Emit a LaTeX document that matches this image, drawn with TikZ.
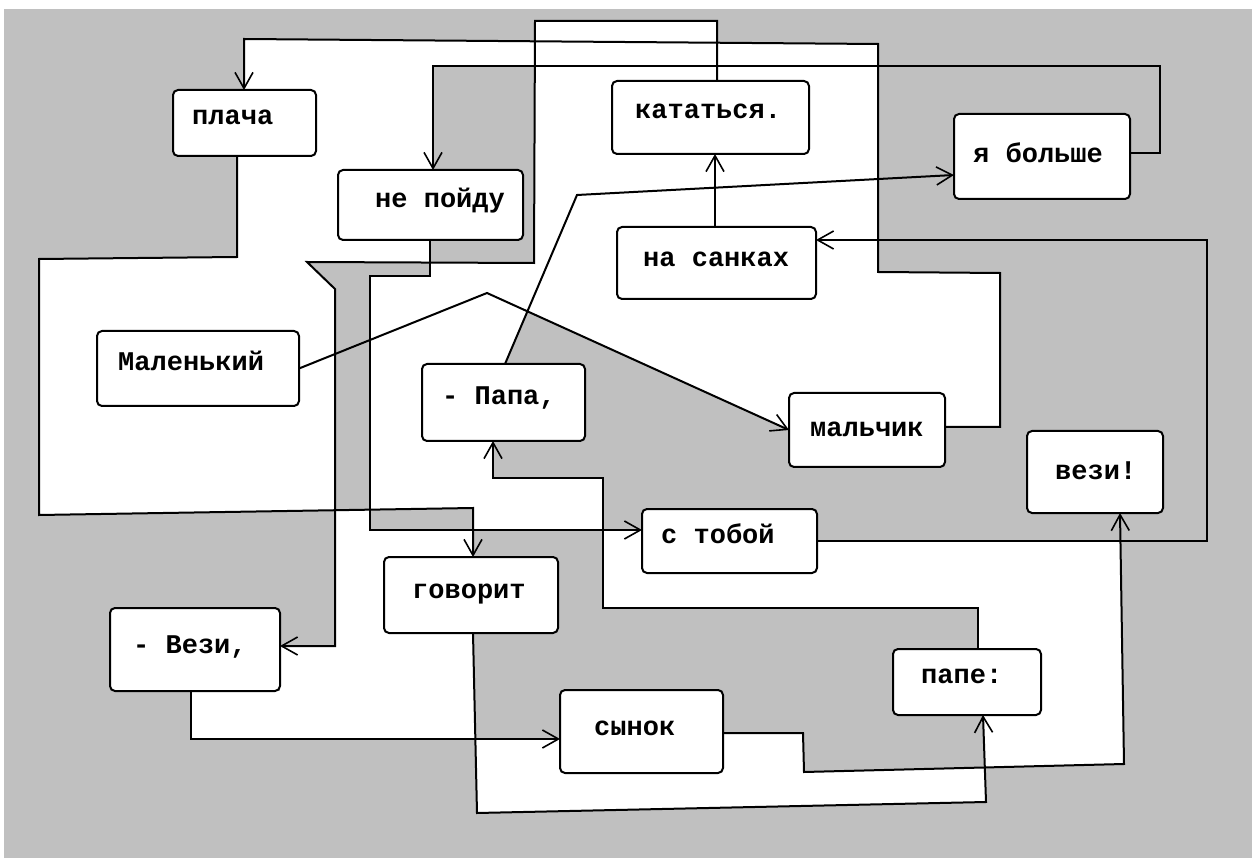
\documentclass[tikz,border=0pt]{standalone}
\usepackage{fontspec}
\setmainfont{Liberation Mono}
\usetikzlibrary{arrows.meta}
\definecolor{bggray}{RGB}{192,192,192}
\begin{document}
\begin{tikzpicture}[x=1pt,y=-1pt,
  box/.style={draw=black, line width=2pt, fill=white, rounded corners=5pt, inner sep=0pt, outer sep=0pt, anchor=north west},
  lbl/.style={anchor=base west, inner sep=0pt, font=\fontsize{27}{30}\selectfont\bfseries},
  conn/.style={draw=black, line width=2pt, line join=miter},
  arr/.style={conn, -{Straight Barb[length=16pt,width=18pt,line width=1.6pt]}},
  whitefill/.style={fill=white},
  grayfill/.style={fill=bggray}]
\useasboundingbox (0,0) rectangle (1259,858);
\fill[white] (0,0) rectangle (1259,858);
\fill[bggray] (4,9) rectangle (1252,858);
% white regions
\fill[whitefill] (244,39) -- (535,41.3) -- (535,21) -- (717,21) -- (717,42.7) -- (878,44) -- (878,272) -- (1000,273) -- (1000,427) -- (789,430) -- (527.2,311.2) -- (505,364) -- (493,441) -- (493,478) -- (603,478) -- (603,530) -- (473,530) -- (473,508) -- (369.5,509.7) -- (369.5,276) -- (430,276) -- (430,262.5) -- (307,262) -- (335,289) -- (335,510.2) -- (39,515) -- (39,259) -- (237,257) -- (237,156) -- (244,156) -- cycle;
\fill[grayfill] (433,66) -- (534.5,66) -- (534,263) -- (430,262.5) -- (430,205) -- (433,205) -- cycle;
\fill[whitefill] (603,530) -- (642,530) -- (642,541) -- (1120.4,541) -- (1124,764) -- (985,767.5) -- (983,715) -- (978,649) -- (978,608) -- (603,608) -- cycle;
\fill[whitefill] (475.4,739) -- (560,739) -- (560,733) -- (803,733) -- (804,772) -- (985,767.5) -- (986,802) -- (477,813) -- cycle;
\fill[whitefill] (335,510.2) -- (369.5,509.7) -- (369.5,530) -- (473,530) -- (473,633) -- (475.4,739) -- (191,739) -- (191,691) -- (280,691) -- (280,646) -- (335,646) -- cycle;
% boxes
\node[box, minimum width=143pt, minimum height=66pt] (plach) at (173,90) {};
\node[box, minimum width=185pt, minimum height=70pt] (nep) at (338,170) {};
\node[box, minimum width=197pt, minimum height=73pt] (kat) at (612,81) {};
\node[box, minimum width=176pt, minimum height=85pt] (bol) at (954,114) {};
\node[box, minimum width=199pt, minimum height=72pt] (san) at (617,227) {};
\node[box, minimum width=202pt, minimum height=75pt] (mal) at (97,331) {};
\node[box, minimum width=163pt, minimum height=77pt] (papa) at (422,364) {};
\node[box, minimum width=156pt, minimum height=74pt] (malch) at (789,393) {};
\node[box, minimum width=136pt, minimum height=82pt] (vezi2) at (1027,431) {};
\node[box, minimum width=175pt, minimum height=64pt] (tob) at (642,509) {};
\node[box, minimum width=174pt, minimum height=76pt] (gov) at (384,557) {};
\node[box, minimum width=170pt, minimum height=83pt] (vezi1) at (110,608) {};
\node[box, minimum width=148pt, minimum height=66pt] (pape) at (893,649) {};
\node[box, minimum width=163pt, minimum height=83pt] (syn) at (560,690) {};
% texts
\node[lbl] (plach-t) at (192,125) {плача};
\node[lbl] (nep-t) at (375,208) {не пойду};
\node[lbl] (kat-t) at (635,119) {кататься.};
\node[lbl] (bol-t) at (973,163) {я больше};
\node[lbl] (san-t) at (643,267) {на санках};
\node[lbl] (mal-t) at (118,371) {Маленький};
\node[lbl] (papa-t) at (442,405) {- Папа,};
\node[lbl] (malch-t) at (810,437) {мальчик};
\node[lbl] (vezi2-t) at (1055,480) {вези!};
\node[lbl] (tob-t) at (661,543) {с тобой};
\node[lbl] (gov-t) at (412,598) {говорит};
\node[lbl] (vezi1-t) at (133,653) {- Вези,};
\node[lbl] (pape-t) at (921,683) {папе:};
\node[lbl] (syn-t) at (594,735) {сынок};
% bend points
\coordinate (a1) at (717,21); \coordinate (a2) at (535,21); \coordinate (a3) at (534,263);
\coordinate (a4) at (307,262); \coordinate (a5) at (335,289); \coordinate (a6) at (335,646);
\coordinate (b1) at (1160,153); \coordinate (b2) at (1160,66); \coordinate (b3) at (433,66);
\coordinate (c1) at (237,257); \coordinate (c2) at (39,259); \coordinate (c3) at (39,515); \coordinate (c4) at (473,508);
\coordinate (d1) at (430,276); \coordinate (d2) at (369.5,276); \coordinate (d3) at (369.5,530);
\coordinate (e1) at (487,293);
\coordinate (f0) at (505,0); \coordinate (f1) at (577,195); \coordinate (f2) at (0,175);
\coordinate (g0) at (715,0);
\coordinate (h1) at (1000,427); \coordinate (h2) at (1000,273); \coordinate (h3) at (878,272);
\coordinate (h4) at (878,44); \coordinate (h5) at (244,39);
\coordinate (i1) at (1207,541); \coordinate (i2) at (1207,240);
\coordinate (j1) at (978,608); \coordinate (j2) at (603,608); \coordinate (j3) at (603,478); \coordinate (j4) at (493,478);
\coordinate (k1) at (191,739);
\coordinate (l0) at (473,0); \coordinate (l1) at (477,813); \coordinate (l2) at (986,802); \coordinate (l3) at (983,0);
\coordinate (m1) at (803,733); \coordinate (m2) at (804,772); \coordinate (m3) at (1124,764); \coordinate (m4) at (1120,0);
% connectors
\draw[arr] (a1 |- kat.north) -- (a1) -- (a2) -- (a3) -- (a4) -- (a5) -- (a6) -- (a6 -| vezi1.east);
\draw[arr] (b1 -| bol.east) -- (b1) -- (b2) -- (b3) -- (b3 |- nep.north);
\draw[arr] (c1 |- plach.south) -- (c1) -- (c2) -- (c3) -- (c4) -- (c4 |- gov.north);
\draw[arr] (d1 |- nep.south) -- (d1) -- (d2) -- (d3) -- (d3 -| tob.west);
\draw[arr] (mal.east) -- (e1) -- (malch.west);
\draw[arr] (f0 |- papa.north) -- (f1) -- (f2 -| bol.west);
\draw[arr] (g0 |- san.north) -- (g0 |- kat.south);
\draw[arr] (h1 -| malch.east) -- (h1) -- (h2) -- (h3) -- (h4) -- (h5) -- (h5 |- plach.north);
\draw[arr] (i1 -| tob.east) -- (i1) -- (i2) -- (i2 -| san.east);
\draw[arr] (j1 |- pape.north) -- (j1) -- (j2) -- (j3) -- (j4) -- (j4 |- papa.south);
\draw[arr] (k1 |- vezi1.south) -- (k1) -- (k1 -| syn.west);
\draw[arr] (l0 |- gov.south) -- (l1) -- (l2) -- (l3 |- pape.south);
\draw[arr] (m1 -| syn.east) -- (m1) -- (m2) -- (m3) -- (m4 |- vezi2.south);
\end{tikzpicture}
\end{document}
